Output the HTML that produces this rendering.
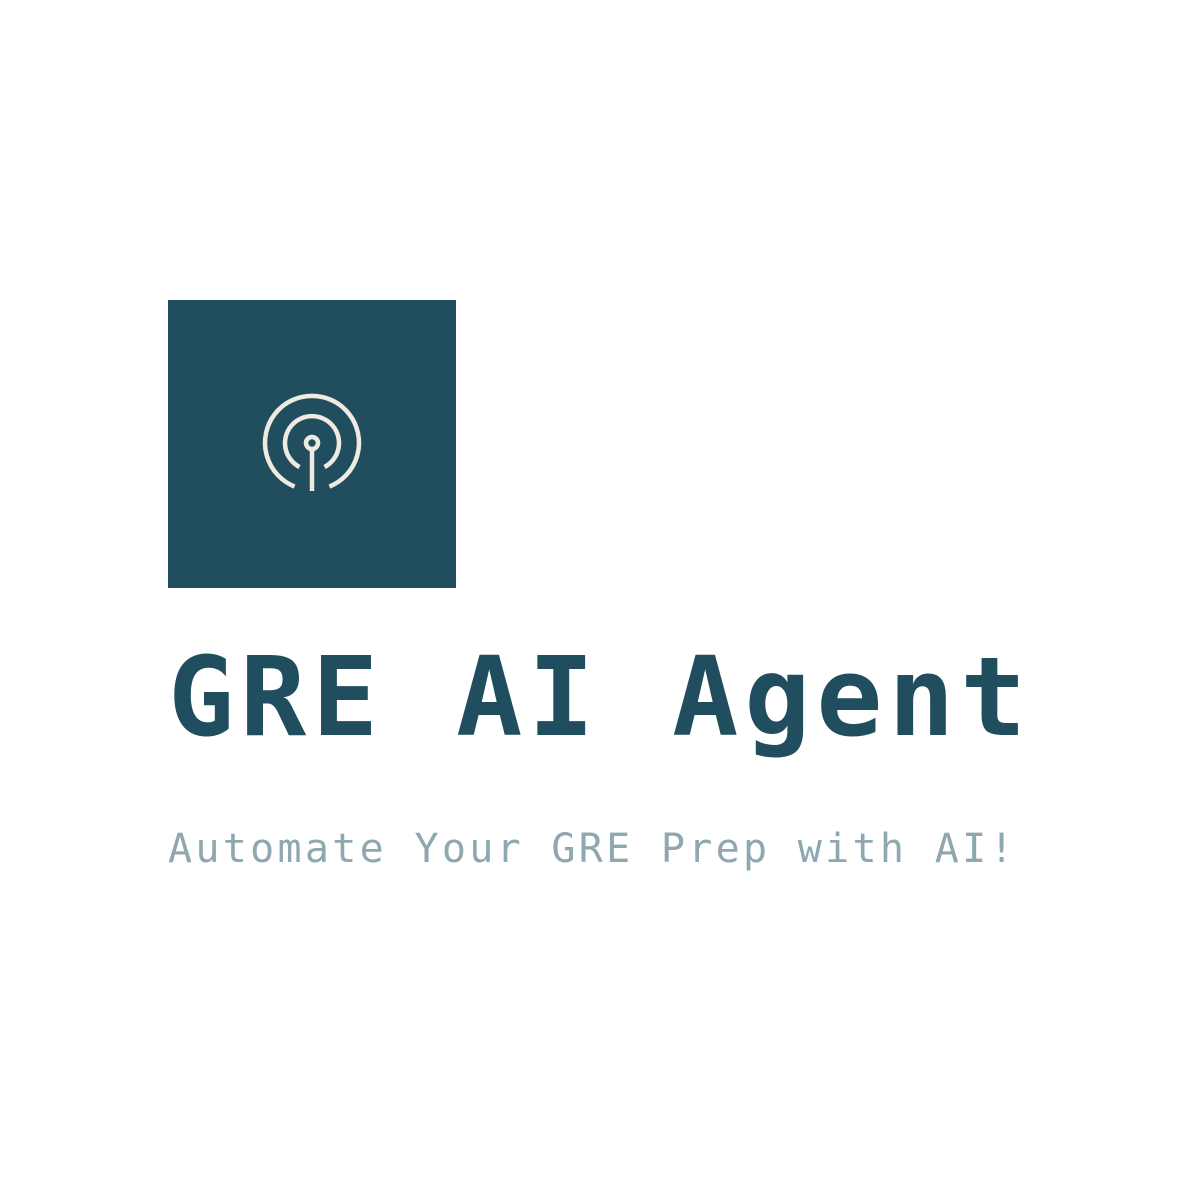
<!DOCTYPE html>
<html><head><meta charset="utf-8"><style>
html,body{margin:0;padding:0;background:#fff;width:1200px;height:1200px;overflow:hidden}
.box{position:absolute;left:168px;top:300px;width:288px;height:288px;background:#214e5f}
.t{position:absolute;left:168px;white-space:pre;font-family:"DejaVu Sans Mono","Liberation Mono",monospace;line-height:1}
#title{top:642px;font-size:110px;font-weight:bold;color:#214e5f;letter-spacing:5.8px}
#sub{top:829px;font-size:40px;color:#8fa7b0;letter-spacing:3.3px}
</style></head><body>
<div class="box">
<svg width="288" height="288">
<g fill="none" stroke="#f0ebe1" stroke-width="4.5" stroke-linecap="butt">
<path d="M126.6,186.5 A47,47 0 1 1 161.4,186.5"/>
<path d="M131.5,167 A27,27 0 1 1 156.5,167"/>
<circle cx="144" cy="143" r="6"/>
<line x1="144" y1="149" x2="144" y2="191"/>
</g></svg></div>
<div class="t" id="title">GRE AI Agent</div>
<div class="t" id="sub">Automate Your GRE Prep with AI!</div>
</body></html>
